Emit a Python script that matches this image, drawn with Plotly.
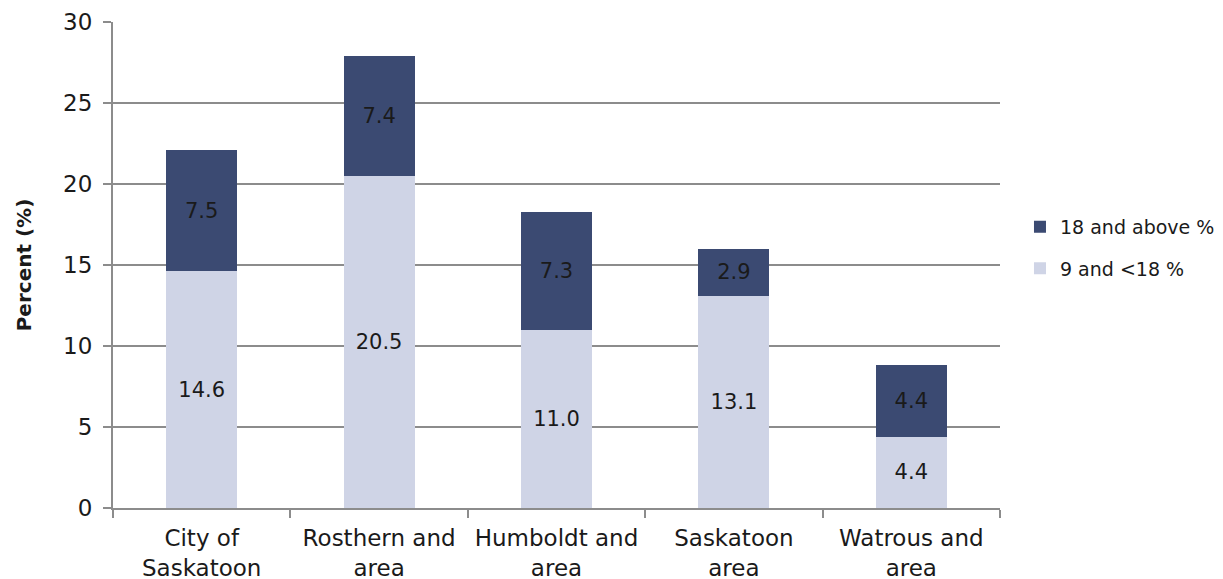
import plotly.graph_objects as go

categories = ["City of<br>Saskatoon", "Rosthern and<br>area", "Humboldt and<br>area", "Saskatoon<br>area", "Watrous and<br>area"]
low_vals = [14.6, 20.5, 11.0, 13.1, 4.4]
high_vals = [7.5, 7.4, 7.3, 2.9, 4.4]
low_name = "9 and <18 %"
high_name = "18 and above %"
y_ticks = [0, 5, 10, 15, 20, 25, 30]

FONT = "DejaVu Sans"
fig = go.Figure()
fig.add_trace(go.Bar(
    x=categories, y=low_vals, name=low_name, legendgroup="a", legendrank=2,
    marker=dict(color="#CFD4E6", line=dict(width=0)),
    text=[f"{v:.1f}" for v in low_vals], textposition="inside",
    insidetextanchor="middle", textangle=0,
    textfont=dict(color="#1a1a1a", size=21, family=FONT),
))
fig.add_trace(go.Bar(
    x=categories, y=high_vals, name=high_name, legendgroup="b", legendrank=1,
    marker=dict(color="#3B4A72", line=dict(width=0)),
    text=[f"{v:.1f}" for v in high_vals], textposition="inside",
    insidetextanchor="middle", textangle=0,
    textfont=dict(color="#1a1a1a", size=21, family=FONT),
))
fig.update_layout(
    barmode="stack", bargap=0.6,
    width=1223, height=579,
    margin=dict(l=113, r=223, t=22, b=71),
    plot_bgcolor="white", paper_bgcolor="white",
    font=dict(family=FONT, size=22, color="#1a1a1a"),
    uniformtext=dict(mode=False),
    legend=dict(
        xref="container", yref="container",
        x=0.834, xanchor="left", y=0.572, yanchor="middle",
        traceorder="grouped", tracegroupgap=14,
        font=dict(size=19, family=FONT),
    ),
    xaxis=dict(
        automargin=False,
        showline=True, linecolor="#8c8c8c", linewidth=2,
        ticks="outside", tickson="boundaries", ticklen=8, tickcolor="#8c8c8c", tickwidth=2,
        showgrid=False, tickfont=dict(size=23), ticklabelstandoff=8,
    ),
    yaxis=dict(
        automargin=False,
        range=[0, 30], tickvals=y_ticks,
        showline=True, linecolor="#8c8c8c", linewidth=2,
        ticks="outside", ticklen=8, tickcolor="#8c8c8c", tickwidth=2,
        showgrid=True, gridcolor="#8c8c8c", gridwidth=1.5,
        zeroline=False, tickfont=dict(size=23), ticklabelstandoff=6,
        title=dict(text="<b>Percent (%)</b>", font=dict(size=20), standoff=26),
    ),
)
fig.write_html(
    "out.html",
    config={"displayModeBar": False},
    post_script="document.body.style.margin='0';document.body.style.overflow='hidden';",
)
